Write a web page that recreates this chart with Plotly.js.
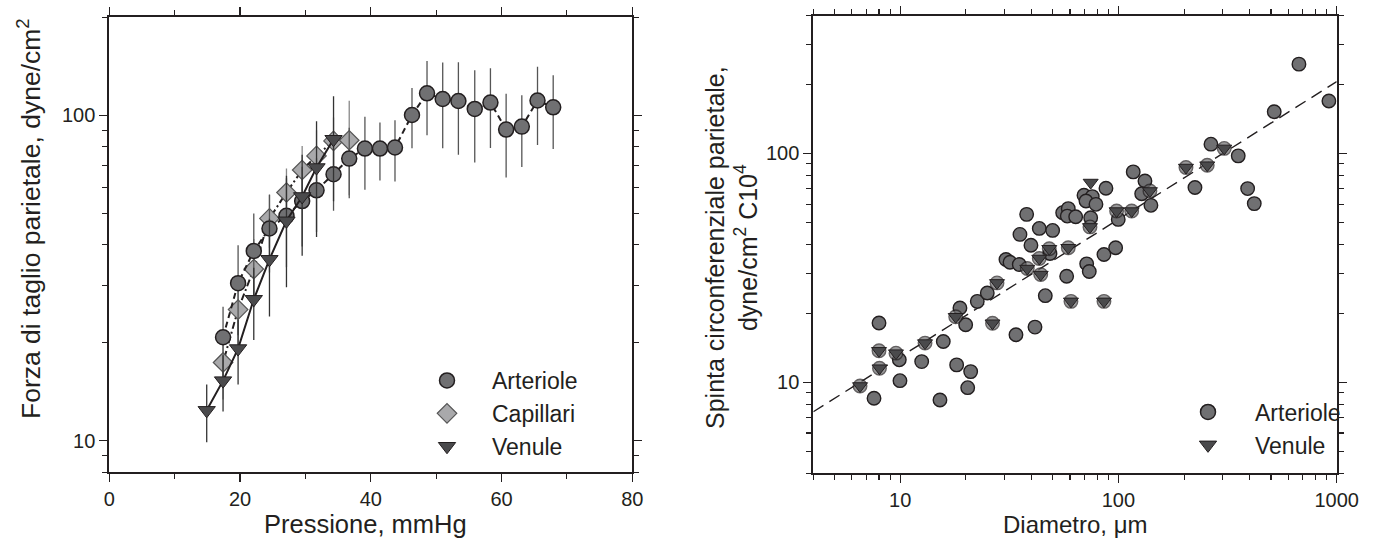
<!DOCTYPE html>
<html>
<head>
<meta charset="utf-8">
<script src="https://cdn.plot.ly/plotly-3.0.1.min.js"></script>
<style>html,body{margin:0;padding:0;background:#fff;}#chart{width:1373px;height:544px;}</style>
</head>
<body>
<div id="chart"></div>
<script>
// ---------- Left panel: shear stress vs pressure ----------
const artP   = [17.4, 19.7, 22.1, 24.5, 27.1, 29.5, 31.7, 34.3, 36.7, 39.1, 41.4, 43.7, 46.3, 48.6, 51.0, 53.4, 55.9, 58.3, 60.7, 63.1, 65.5, 67.9];
const artTau = [20.8, 30.5, 38.3, 44.9, 49.1, 54.5, 58.8, 65.9, 73.6, 79.0, 79.0, 79.6, 100.2, 116.8, 112.2, 110.6, 104.6, 109.4, 90.4, 92.3, 111.0, 105.8];
const artSD  = [5, 9.4, 11.6, 12, 15, 15, 15, 15, 18, 20, 16, 17, 21, 30, 33, 35, 33, 30, 26, 23, 30, 27];

const capP   = [17.4, 19.7, 22.1, 24.5, 27.1, 29.5, 31.7, 34.3, 36.7];
const capTau = [17.4, 25.3, 33.7, 48.2, 57.9, 67.9, 75.0, 83.4, 83.8];
const capSD  = [4, 7, 8, 9, 10.7, 12.6, 15, 15, 27];

const venP   = [14.9, 17.4, 19.7, 22.1, 24.5, 27.1, 29.5, 31.7, 34.3];
const venTau = [12.4, 15.3, 19.2, 27.2, 36.1, 47.4, 56.3, 69.1, 84.4];
const venSD  = [2.5, 3, 4.3, 6.8, 12, 17.8, 19.3, 26.8, 30];

// ---------- Right panel: circumferential wall tension vs diameter ----------
const artD = [8.0, 9.91, 9.98, 7.59, 12.55, 15.76, 15.22, 18.15, 21.04, 20.39, 18.79, 19.96, 22.56, 25.07, 30.53, 31.86, 35.13, 33.93, 41.47, 46.23,
              37.98, 35.39, 39.74, 43.39, 49.96, 48.56, 55.53, 58.91, 58.29, 63.7, 57.92, 71.54, 73.52, 85.84, 97.1, 69.53, 75.89, 71.01, 78.9, 87.67,
              74.62, 99.8, 116.9, 132.3, 127.8, 140.9, 224.2, 265.4, 353.9, 390.8, 419.1, 517.3, 671.4, 921.1];
const artT = [18.15, 12.53, 10.16, 8.51, 12.31, 15.07, 8.36, 11.91, 11.13, 9.47, 21.12, 17.84, 22.57, 24.57, 34.39, 33.46, 32.70, 16.12, 17.42, 23.9,
              54.17, 44.28, 39.72, 47.03, 46.09, 36.53, 55.11, 57.39, 53.24, 52.92, 29.05, 32.93, 30.46, 36.16, 38.71, 65.64, 64.78, 61.96, 59.93, 70.44,
              52.39, 51.5, 83.06, 75.84, 66.64, 59.33, 70.94, 109.8, 97.6, 70.22, 60.36, 152.2, 245.7, 169.6];

const venD = [6.55, 8.0, 8.04, 9.57, 13.0, 17.97, 26.49, 27.78, 48.2, 43.39, 38.22, 44.04, 58.91, 60.6, 85.84, 74.62, 74.07, 98.1, 115.0, 139.4, 203.9, 255.2, 305.3];
const venT = [9.63, 13.72, 11.52, 13.4, 14.83, 19.33, 18.11, 27.18, 38.31, 34.74, 31.4, 29.55, 38.71, 22.57, 22.57, 74.62, 47.74, 56.01, 56.01, 68.55, 86.8, 88.86, 105.2];
const venBacked = [1,1,1,1,1,1,1,1,1,1,1,1,1,1,1,0,1,1,1,1,1,1,1];

const fitD = [4, 1000];
const fitT = [7.43, 206];

const xTicksL = [0, 20, 40, 60, 80];
const yTicksL = [10, 100];
const xTicksR = [10, 100, 1000];
const yTicksR = [10, 100];

// ---------- styling ----------
const FONT = '"Liberation Sans", Arial, Helvetica, sans-serif';
const INK = '#231f20';
const cArt = '#707072', cCap = '#a9a9ab', cVen = '#4a4a4c';

function minorLog(lo, hi) {
  const out = [];
  for (let e = Math.floor(Math.log10(lo)); e <= Math.ceil(Math.log10(hi)); e++) {
    for (let k = 2; k <= 9; k++) { const v = k * Math.pow(10, e); if (v >= lo * 0.999 && v <= hi * 1.001) out.push(v); }
  }
  return out;
}

const traces = [
  { x: capP, y: capTau, xaxis: 'x', yaxis: 'y', mode: 'lines+markers', showlegend: false,
    line: { color: INK, width: 2, dash: '2px,3px,7px,3px' },
    marker: { symbol: 'diamond', size: 15, color: cCap, line: { color: '#555', width: 1.2 } },
    error_y: { type: 'data', array: capSD, visible: true, color: '#888', thickness: 1.3, width: 0 } },
  { x: artP, y: artTau, xaxis: 'x', yaxis: 'y', mode: 'lines+markers', showlegend: false,
    line: { color: INK, width: 2, dash: '6px,4px' },
    marker: { symbol: 'circle', size: 15, color: cArt, line: { color: INK, width: 1.5 } },
    error_y: { type: 'data', array: artSD, visible: true, color: '#555', thickness: 1.3, width: 0 } },
  { x: venP, y: venTau, xaxis: 'x', yaxis: 'y', mode: 'lines+markers', showlegend: false,
    line: { color: INK, width: 2 },
    marker: { symbol: 'triangle-down', size: 15, color: cVen, line: { color: INK, width: 1 } },
    error_y: { type: 'data', array: venSD, visible: true, color: '#333', thickness: 1.3, width: 0 } },
  // legend entries (left)
  { x: [null], y: [null], xaxis: 'x', yaxis: 'y', mode: 'markers', name: 'Arteriole', legend: 'legend',
    marker: { symbol: 'circle', size: 15, color: cArt, line: { color: INK, width: 1.5 } } },
  { x: [null], y: [null], xaxis: 'x', yaxis: 'y', mode: 'markers', name: 'Capillari', legend: 'legend',
    marker: { symbol: 'diamond', size: 15, color: cCap, line: { color: '#555', width: 1.2 } } },
  { x: [null], y: [null], xaxis: 'x', yaxis: 'y', mode: 'markers', name: 'Venule', legend: 'legend',
    marker: { symbol: 'triangle-down', size: 15, color: cVen, line: { color: INK, width: 1 } } },

  // right panel
  { x: fitD, y: fitT, xaxis: 'x2', yaxis: 'y2', mode: 'lines', showlegend: false,
    line: { color: INK, width: 1.4, dash: '12px,7px' } },
  { x: artD, y: artT, xaxis: 'x2', yaxis: 'y2', mode: 'markers', showlegend: false,
    marker: { symbol: 'circle', size: 13.5, color: cArt, line: { color: INK, width: 1.4 } } },
  { x: venD, y: venT, xaxis: 'x2', yaxis: 'y2', mode: 'markers', showlegend: false,
    marker: { symbol: 'circle', size: venBacked.map(b => b ? 13.5 : 0), color: cArt, line: { color: INK, width: 1.4 } } },
  { x: venD, y: venT, xaxis: 'x2', yaxis: 'y2', mode: 'markers', showlegend: false,
    marker: { symbol: 'triangle-down', size: 13, color: cVen, line: { color: INK, width: 1 } } },
  { x: [null], y: [null], xaxis: 'x2', yaxis: 'y2', mode: 'markers', name: 'Arteriole', legend: 'legend2',
    marker: { symbol: 'circle', size: 15, color: cArt, line: { color: INK, width: 1.5 } } },
  { x: [null], y: [null], xaxis: 'x2', yaxis: 'y2', mode: 'markers', name: 'Venule', legend: 'legend2',
    marker: { symbol: 'triangle-down', size: 15, color: cVen, line: { color: INK, width: 1 } } }
];

const W = 1373, H = 544;
function axBase() {
  return {
    showline: true, linewidth: 2, linecolor: INK, mirror: 'allticks',
    ticks: 'outside', ticklen: 8, tickwidth: 1.3, tickcolor: INK,
    showgrid: false, zeroline: false, fixedrange: true,
    tickfont: { family: FONT, size: 20, color: INK }
  };
}
const layout = {
  width: W, height: H,
  margin: { l: 0, r: 0, t: 0, b: 0 },
  paper_bgcolor: '#fff', plot_bgcolor: '#fff',
  font: { family: FONT, color: INK },
  xaxis: Object.assign(axBase(), {
    domain: [109.3 / W, 632.3 / W], range: [0, 80], anchor: 'y',
    tickmode: 'array', tickvals: xTicksL, ticktext: xTicksL.map(String),
    minor: { tickmode: 'linear', tick0: 0, dtick: 10, ticks: 'outside', ticklen: 5, tickwidth: 1.1, tickcolor: INK }
  }),
  yaxis: Object.assign(axBase(), {
    domain: [1 - 472.3 / H, 1 - 17.3 / H], type: 'log', range: [Math.log10(8), Math.log10(200)], anchor: 'x',
    tickmode: 'array', tickvals: yTicksL, ticktext: yTicksL.map(String),
    minor: { tickmode: 'array', tickvals: minorLog(8, 200), ticks: 'outside', ticklen: 5, tickwidth: 1.1, tickcolor: INK }
  }),
  xaxis2: Object.assign(axBase(), {
    domain: [813.3 / W, 1336.7 / W], type: 'log', range: [Math.log10(4), 3], anchor: 'y2',
    tickmode: 'array', tickvals: xTicksR, ticktext: xTicksR.map(String),
    minor: { tickmode: 'array', tickvals: minorLog(4, 1000), ticks: 'outside', ticklen: 5, tickwidth: 1.1, tickcolor: INK }
  }),
  yaxis2: Object.assign(axBase(), {
    domain: [1 - 473.3 / H, 1 - 15.7 / H], type: 'log', range: [Math.log10(4), Math.log10(400)], anchor: 'x2',
    tickmode: 'array', tickvals: yTicksR, ticktext: yTicksR.map(String),
    minor: { tickmode: 'array', tickvals: minorLog(4, 400), ticks: 'outside', ticklen: 5, tickwidth: 1.1, tickcolor: INK }
  }),
  legend: {
    x: 402 / W, y: 1 - 359 / H, xanchor: 'left', yanchor: 'top',
    bgcolor: 'rgba(0,0,0,0)', borderwidth: 0, itemwidth: 80,
    font: { family: FONT, size: 23, color: INK }, tracegroupgap: 0
  },
  legend2: {
    x: 1161 / W, y: 1 - 390.5 / H, xanchor: 'left', yanchor: 'top',
    bgcolor: 'rgba(0,0,0,0)', borderwidth: 0, itemwidth: 84,
    font: { family: FONT, size: 23, color: INK }, tracegroupgap: 0
  },
  annotations: [
    { text: 'Pressione, mmHg', xref: 'paper', yref: 'paper', x: 365 / W, y: 1 - 524 / H,
      xanchor: 'center', yanchor: 'middle', showarrow: false, font: { family: FONT, size: 25.5, color: INK } },
    { text: 'Forza di taglio parietale, dyne/cm<sup>2</sup>', xref: 'paper', yref: 'paper', x: 29 / W, y: 1 - 219 / H,
      xanchor: 'center', yanchor: 'middle', textangle: -90, showarrow: false, font: { family: FONT, size: 26.5, color: INK } },
    { text: 'Diametro, μm', xref: 'paper', yref: 'paper', x: 1075 / W, y: 1 - 524 / H,
      xanchor: 'center', yanchor: 'middle', showarrow: false, font: { family: FONT, size: 24, color: INK } },
    { text: 'Spinta circonferenziale parietale,<br>dyne/cm<sup>2</sup> C10<sup>4</sup>', xref: 'paper', yref: 'paper', x: 732 / W, y: 1 - 248 / H,
      xanchor: 'center', yanchor: 'middle', textangle: -90, showarrow: false, font: { family: FONT, size: 25, color: INK } }
  ]
};

Plotly.newPlot('chart', traces, layout, { staticPlot: true, displayModeBar: false });
</script>
</body>
</html>
